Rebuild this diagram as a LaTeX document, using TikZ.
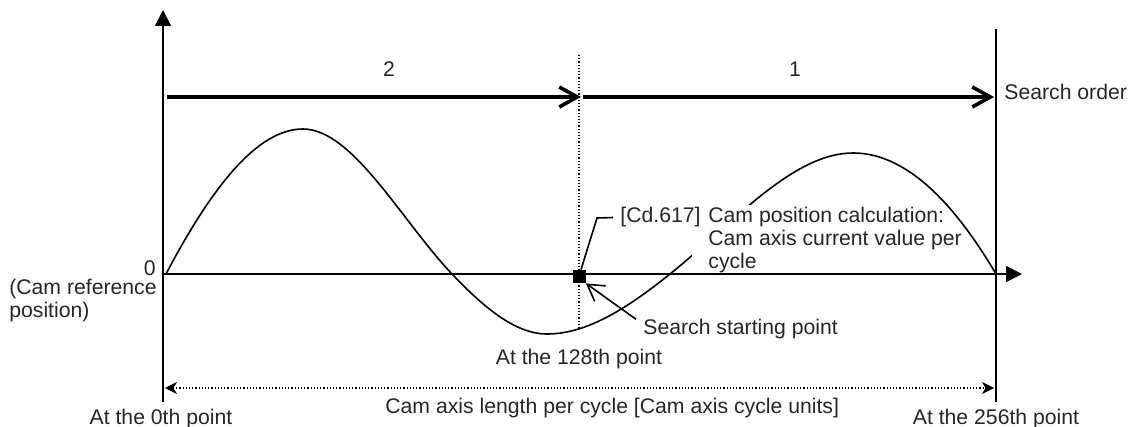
\documentclass[tikz,border=0pt]{standalone}
\usepackage{fontspec}
\setmainfont{Liberation Sans}
\usetikzlibrary{positioning,arrows.meta}
\newcommand{\stackedlines}[1]{\begin{tabular}[t]{@{}l@{}}#1\end{tabular}}

\begin{document}
\begin{tikzpicture}[
  x=0.5pt, y=-0.5pt,
  line/.style={line width=0.8pt},
  axis/.style={line, -{Triangle[length=8pt, width=8pt]}},
  order/.style={line width=1.8pt, -{Straight Barb[length=9pt, width=10pt]}},
  dots/.style={line width=0.6pt, dash pattern=on 0.6pt off 1pt},
  dim/.style={dots, {Stealth[length=6pt, width=6pt, inset=1.8pt]}-{Stealth[length=6pt, width=6pt, inset=1.8pt]}},
  pointer/.style={line, -{Straight Barb[length=8pt, width=9.5pt]}},
  lbl/.style={font=\fontsize{10.6}{11.3}\selectfont, text=black!85, inner sep=0pt}
]
  \useasboundingbox (0,0) rectangle (1131,427);

  \coordinate (O)    at (163,274);
  \coordinate (ytop) at (163,10);
  \coordinate (ybot) at (163,402);
  \coordinate (xend) at (1022,274);
  \coordinate (rtop) at (996,29);
  \coordinate (rbot) at (996,402);
  \coordinate (mtop) at (579,55);
  \coordinate (mbot) at (579,329);
  \coordinate (s0)   at (167,97);
  \coordinate (s1)   at (581,97);
  \coordinate (s2)   at (583,97);
  \coordinate (s3)   at (994,97);
  \coordinate (dimL) at (165,388);
  \coordinate (dimR) at (994,388);
  \coordinate (kink) at (597,218);

  % cam curve, partly behind the label
  \draw[line] (166,274) .. controls (211.7,187.2) and (257.3,129) .. (303,129)
    .. controls (352.7,129) and (402.3,221.8) .. (452,274)
    .. controls (483.7,307.3) and (515.3,334) .. (547,334)
    .. controls (588,334) and (629,306.8) .. (670,274)
    .. controls (731,225.2) and (792,153) .. (853,153);
  \node[lbl, fill=white, inner xsep=8pt, inner ysep=1pt, anchor=base west] (cdtext) at (692,223)
    {\stackedlines{Cam position calculation:\\Cam axis current value per\\cycle}};
  \node[lbl, inner xsep=3.5pt, anchor=base west] (cdtag) at (613,223) {[Cd.617]};
  \draw[line] (853,153) .. controls (900.7,153) and (948.3,193) .. (996,274);

  % axes and limits
  \draw[axis] (ybot) -- (ytop);
  \draw[axis] (O) -- (xend);
  \draw[line] (rbot) -- (rtop);
  \draw[dots] (mtop) -- (mbot);

  % search order
  \draw[order] (s0) -- (s1);
  \draw[order] (s2) -- (s3);
  \node[lbl, anchor=base] (n2) at (389,77) {2};
  \node[lbl, anchor=base] (n1) at (795,77) {1};
  \node[lbl, anchor=base west] (sorder) at (1004,100) {Search order};

  % search starting point
  \node[fill=black, inner sep=0pt, minimum size=6.5pt] (sp) at (579,276.5) {};
  \draw[line] ([xshift=1pt]sp.north) -- (kink) -- (cdtag.west);
  \node[lbl, anchor=base west] (ssp) at (643,335) {Search starting point};
  \draw[pointer] ([xshift=-3.5pt]ssp.north west) -- (sp.south east);

  % labels
  \node[lbl, anchor=base east] (zero) at (156,276) {0};
  \node[lbl, anchor=base east] (refpos) at (157,295) {\stackedlines{(Cam reference\\position)}};
  \node[lbl, anchor=base] (p0)   at (161,425) {At the 0th point};
  \node[lbl, anchor=base] (p128) at (579,365) {At the 128th point};
  \node[lbl, anchor=base] (p256) at (996,425) {At the 256th point};

  % cycle length
  \draw[dim] (dimL) -- (dimR);
  \node[lbl, anchor=base west] (len) at (385,414) {Cam axis length per cycle [Cam axis cycle units]};
\end{tikzpicture}
\end{document}
